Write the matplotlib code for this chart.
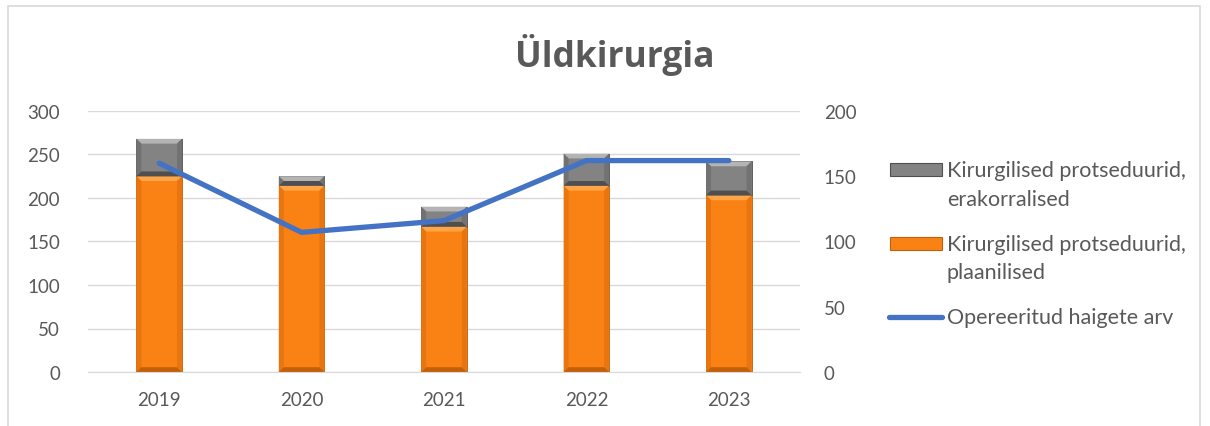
import matplotlib
matplotlib.use("Agg")
import matplotlib.pyplot as plt
from matplotlib.patches import Rectangle, Polygon
from matplotlib.lines import Line2D
import numpy as np

years = ["2019", "2020", "2021", "2022", "2023"]
planned = [225, 214, 167, 214, 203]
emergency = [43, 11, 23, 37, 39]
patients = [160, 107, 116, 162, 162]
legend_lines = [["Kirurgilised protseduurid,", "erakorralised"],
                ["Kirurgilised protseduurid,", "plaanilised"],
                ["Opereeritud haigete arv"]]

plt.rcParams['font.family'] = ['Lato', 'DejaVu Sans']
txt = '#595959'
orange = '#FA8214'
orange_light = '#FFA547'
orange_dark = '#C2600A'
gray = '#838383'
gray_light = '#B4B4B4'
gray_dark = '#4F4F4F'
blue = '#4472C4'

W, H = 1210, 427
fig = plt.figure(figsize=(W / 100, H / 100), dpi=100)
fig.patches.append(Rectangle((8 / W, -0.01), 1192 / W, 1 - 7 / H + 0.01, transform=fig.transFigure,
                             fill=False, edgecolor='#D9D9D9', linewidth=1.2))

ax = fig.add_axes([88 / W, 1 - 373 / H, 712 / W, 261 / H])
x = np.arange(len(years))
w = 0.32
b1 = ax.bar(x, planned, w, color=orange, edgecolor=orange_dark, linewidth=0.6, zorder=2)
b2 = ax.bar(x, emergency, w, bottom=planned, color=gray, edgecolor=gray_dark, linewidth=0.6, zorder=2)
ax.set_ylim(0, 300)
ax.set_xlim(-0.5, 4.5)

# bevel effect on each bar segment
bx = 0.035
by = 5.5
def bevel(rect, light, dark, side):
    x0, y0 = rect.get_x(), rect.get_y()
    x1, y1 = x0 + rect.get_width(), y0 + rect.get_height()
    b_y = min(by, rect.get_height() / 2)
    top = Polygon([(x0, y1), (x1, y1), (x1 - bx, y1 - b_y), (x0 + bx, y1 - b_y)],
                  closed=True, facecolor=light, edgecolor='none', zorder=2.5)
    left = Polygon([(x0, y0), (x0, y1), (x0 + bx, y1 - b_y), (x0 + bx, y0 + b_y)],
                   closed=True, facecolor=side, edgecolor='none', zorder=2.5)
    right = Polygon([(x1, y0), (x1, y1), (x1 - bx, y1 - b_y), (x1 - bx, y0 + b_y)],
                    closed=True, facecolor=side, edgecolor='none', zorder=2.5)
    bot = Polygon([(x0, y0), (x1, y0), (x1 - bx, y0 + b_y), (x0 + bx, y0 + b_y)],
                  closed=True, facecolor=dark, edgecolor='none', zorder=2.5)
    for p in (top, left, right, bot):
        ax.add_patch(p)

for r in b1:
    bevel(r, orange_light, orange_dark, '#E8750F')
for r in b2:
    bevel(r, gray_light, gray_dark, '#727272')

ax.set_yticks(range(0, 301, 50))
ax.yaxis.grid(True, color='#D9D9D9', linewidth=1)
ax.set_axisbelow(True)
for s in ax.spines.values():
    s.set_visible(False)
ax.spines['bottom'].set_visible(True)
ax.spines['bottom'].set_color('#D9D9D9')
ax.tick_params(axis='both', length=0, labelsize=13.5, labelcolor=txt)
ax.tick_params(axis='y', pad=20)
ax.tick_params(axis='x', pad=14)
ax.set_xticks(x)
ax.set_xticklabels(years)

ax2 = ax.twinx()
ax2.plot(x, patients, color=blue, linewidth=3.8, solid_capstyle='round', zorder=3)
ax2.set_ylim(0, 200)
ax2.set_yticks(range(0, 201, 50))
for s in ax2.spines.values():
    s.set_visible(False)
ax2.tick_params(axis='y', length=0, labelsize=13.5, labelcolor=txt, pad=17)

fig.text(615 / W, 1 - 55 / H, "Üldkirurgia", ha='center', va='center', fontsize=25.5,
         fontweight='bold', color=txt, family=['Open Sans', 'DejaVu Sans'])

# legend drawn manually (handles aligned to the first line as in the reference)
def fy(py):
    return 1 - py / H
fig.patches.append(Rectangle((890 / W, fy(177)), 52 / W, 13 / H, transform=fig.transFigure,
                             facecolor=gray, edgecolor=gray_dark, linewidth=0.8))
fig.patches.append(Rectangle((890 / W, fy(251)), 52 / W, 13 / H, transform=fig.transFigure,
                             facecolor=orange, edgecolor=orange_dark, linewidth=0.8))
fig.add_artist(Line2D([889 / W, 942 / W], [fy(318), fy(318)], transform=fig.transFigure,
                      color=blue, linewidth=3.8, solid_capstyle='round'))
baselines = [[177, 206], [251, 279], [324]]
for lines, bls in zip(legend_lines, baselines):
    for s, b in zip(lines, bls):
        fig.text(947 / W, fy(b), s, ha='left', va='baseline', fontsize=15.5, color=txt)

fig.savefig("out.png", dpi=100)
